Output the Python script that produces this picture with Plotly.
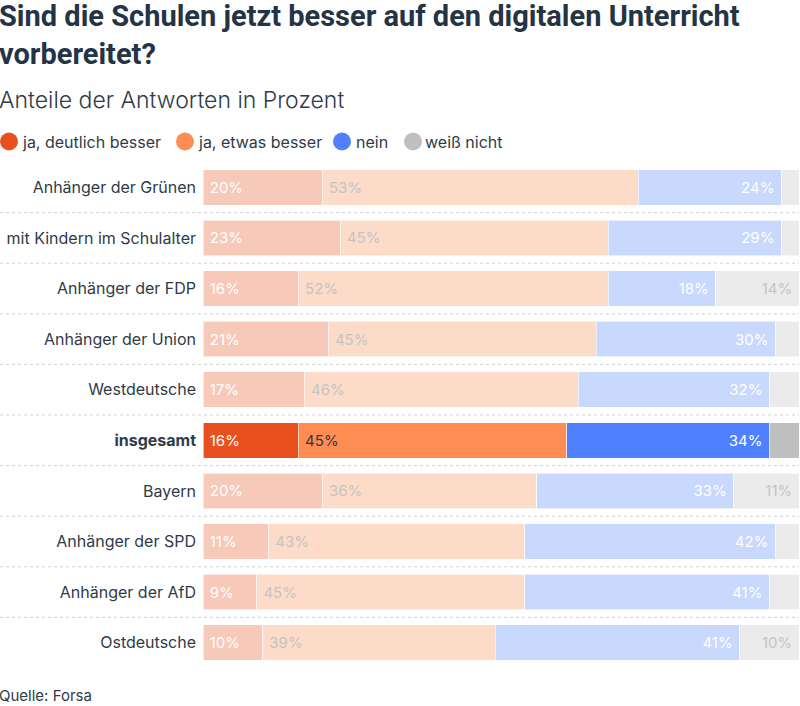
import plotly.graph_objects as go

# ---------------- data ----------------
categories = [
    "Anhänger der Grünen",
    "mit Kindern im Schulalter",
    "Anhänger der FDP",
    "Anhänger der Union",
    "Westdeutsche",
    "insgesamt",
    "Bayern",
    "Anhänger der SPD",
    "Anhänger der AfD",
    "Ostdeutsche",
]
ja_deutlich = [20, 23, 16, 21, 17, 16, 20, 11, 9, 10]
ja_etwas = [53, 45, 52, 45, 46, 45, 36, 43, 45, 39]
nein = [24, 29, 18, 30, 32, 34, 33, 42, 41, 41]
weiss_nicht = [3, 3, 14, 4, 5, 5, 11, 4, 5, 10]
series_names = ["ja, deutlich besser", "ja, etwas besser", "nein", "weiß nicht"]
highlight = "insgesamt"

title_lines = ["Sind die Schulen jetzt besser auf den digitalen Unterricht", "vorbereitet?"]
subtitle = "Anteile der Antworten in Prozent"
source = "Quelle: Forsa"

# ---------------- style ----------------
W, H = 800, 706
L, R, T, B = 203, 1, 162, 38
PW, PH = W - L - R, H - T - B

strong = ["#e8501e", "#ff8c52", "#4f80ff", "#bfbfbf"]
faded = ["#f6c9b9", "#fddbc9", "#c9d8fd", "#ebebeb"]
txt_strong = ["#ffffff", "#333a44", "#ffffff", "#ffffff"]
txt_faded = ["#ffffff", "#c4c4c4", "#ffffff", "#c4c4c4"]
anchors = ["start", "start", "end", "end"]
min_label = [0, 0, 0, 10]
PAD = "\u2005"

TEXT = "#2f3b48"
BODY_FONT = "Inter"
TITLE_FONT = "Roboto"


def px_x(x):
    return (x - L) / PW


def px_y(y):
    return 1 - (y - T) / PH


def label(v, k):
    if v < min_label[k]:
        return ""
    return f"{PAD}{v}%" if anchors[k] == "start" else f"{v}%{PAD}"


fig = go.Figure()
all_series = [ja_deutlich, ja_etwas, nein, weiss_nicht]
for k, (name, vals) in enumerate(zip(series_names, all_series)):
    hl = [c == highlight for c in categories]
    fig.add_trace(go.Bar(
        name=name,
        y=categories,
        x=vals,
        orientation="h",
        marker=dict(color=[strong[k] if h else faded[k] for h in hl],
                    line=dict(color="rgba(255,255,255,0.6)", width=1)),
        text=[label(v, k) for v in vals],
        textposition="inside",
        insidetextanchor=anchors[k],
        textangle=0,
        textfont=dict(family=BODY_FONT, size=15,
                      color=[txt_strong[k] if h else txt_faded[k] for h in hl]),
        showlegend=False,
        hoverinfo="skip",
    ))

ticktext = [f"<b>{c}</b>" if c == highlight else c for c in categories]

shapes = []
for i in range(len(categories) - 1):
    shapes.append(dict(type="line", xref="paper", yref="y",
                       x0=px_x(0), x1=1, y0=i + 0.5, y1=i + 0.5,
                       line=dict(color="#d2d2d2", width=1, dash="dot")))

# legend (circles + labels)
legend_x = [9, 185, 342, 413]
legend_text_x = [20, 196, 354, 423]
legend_y = 141.5
annotations = []
for k, name in enumerate(series_names):
    shapes.append(dict(type="circle", xref="paper", yref="paper",
                       xsizemode="pixel", ysizemode="pixel",
                       xanchor=px_x(legend_x[k]), yanchor=px_y(legend_y),
                       x0=-9, x1=9, y0=-9, y1=9,
                       fillcolor=strong[k], line=dict(width=0)))
    annotations.append(dict(text=name, xref="paper", yref="paper",
                            x=px_x(legend_text_x[k]), y=px_y(legend_y + 0.5),
                            xanchor="left", yanchor="middle", showarrow=False,
                            font=dict(family=BODY_FONT, size=16, color=TEXT)))

annotations.append(dict(text="<br>".join(title_lines), xref="paper", yref="paper",
                        x=px_x(-3), y=px_y(35), xanchor="left", yanchor="middle",
                        align="left", showarrow=False,
                        font=dict(family=TITLE_FONT, size=29, weight=700, color="#253445")))
annotations.append(dict(text=subtitle, xref="paper", yref="paper",
                        x=px_x(-3), y=px_y(100), xanchor="left", yanchor="middle",
                        showarrow=False,
                        font=dict(family=BODY_FONT, size=23, weight=300, color=TEXT)))
annotations.append(dict(text=source, xref="paper", yref="paper",
                        x=px_x(-3), y=px_y(695), xanchor="left", yanchor="middle",
                        showarrow=False, font=dict(family=BODY_FONT, size=15, color=TEXT)))

fig.update_layout(
    width=W, height=H,
    margin=dict(l=L, r=R, t=T, b=B),
    barmode="stack",
    bargap=0.30,
    plot_bgcolor="white",
    paper_bgcolor="white",
    shapes=shapes,
    annotations=annotations,
    font=dict(family=BODY_FONT, color=TEXT),
    xaxis=dict(range=[0, 100], visible=False, fixedrange=True),
    yaxis=dict(categoryorder="array", categoryarray=categories,
               autorange="reversed", tickmode="array", tickvals=categories,
               ticktext=ticktext, showgrid=False, zeroline=False, showline=False,
               ticks="", ticklabelstandoff=6,
               tickfont=dict(family=BODY_FONT, size=16, color=TEXT)),
)

fig.write_html("out.html")
